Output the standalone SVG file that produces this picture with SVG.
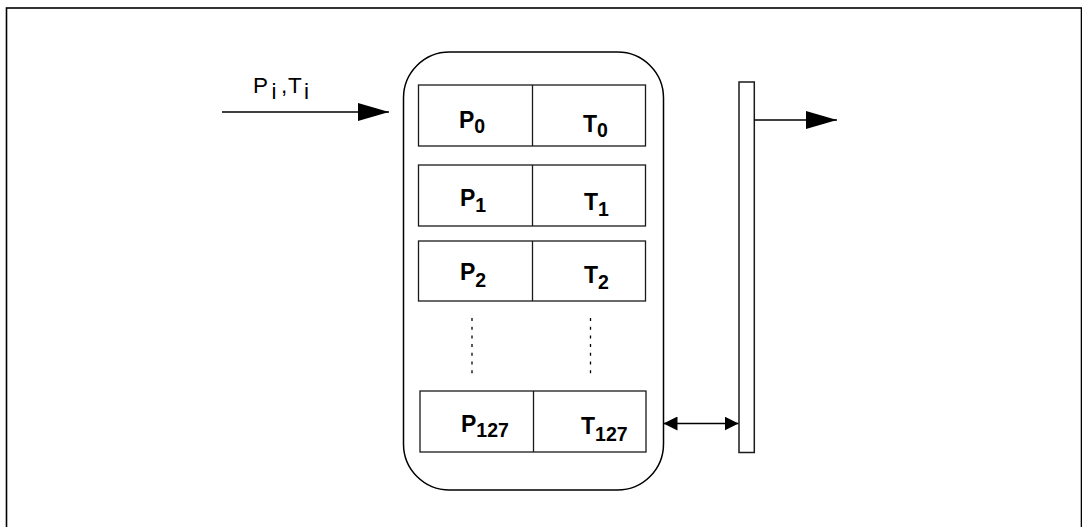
<svg xmlns="http://www.w3.org/2000/svg" width="1082" height="527" viewBox="0 0 1082 527">
<style>
.frame{fill:none;stroke:#000;stroke-width:1.6}
.box{fill:#fff;stroke:#1a1a1a;stroke-width:1.3}
.line{fill:none;stroke:#000;stroke-width:1.5}
.dot{fill:none;stroke:#000;stroke-width:1.3;stroke-dasharray:3 5.7}
.lbl{font-family:"Liberation Sans",Arial,sans-serif;font-weight:bold;font-size:23px;fill:#000}
.sub{font-size:19.5px}
.in{font-family:"Liberation Sans",Arial,sans-serif;font-size:22.5px;fill:#000}
</style>
<defs>
<marker id="ah" markerWidth="31" markerHeight="18" refX="31" refY="9" orient="auto" markerUnits="userSpaceOnUse">
<path d="M0,0 L31,9 L0,18 Z" fill="#000"/>
</marker>
<marker id="sh" markerWidth="14" markerHeight="14" refX="14" refY="7" orient="auto-start-reverse" markerUnits="userSpaceOnUse">
<path d="M0,0 L14,7 L0,14 Z" fill="#000"/>
</marker>
</defs>
<rect class="frame" x="6.5" y="8" width="1075" height="540"/>

<g id="table">
<rect class="frame" x="403.5" y="52" width="260" height="438" rx="46" ry="46" style="stroke-width:1.5"/>
</g>

<g id="row0">
<rect class="box" x="418.5" y="85" width="227" height="61"/>
<line class="box" x1="532.5" y1="85" x2="532.5" y2="146"/>
<text class="lbl" x="459" y="128">P<tspan class="sub" dy="4.5">0</tspan></text>
<text class="lbl" x="583" y="132">T<tspan class="sub" dy="4.5">0</tspan></text>
</g>
<g id="row1">
<rect class="box" x="418.5" y="165" width="227" height="61"/>
<line class="box" x1="532.5" y1="165" x2="532.5" y2="226"/>
<text class="lbl" x="460" y="205.5">P<tspan class="sub" dy="6.5">1</tspan></text>
<text class="lbl" x="584" y="209.5">T<tspan class="sub" dy="6">1</tspan></text>
</g>
<g id="row2">
<rect class="box" x="418.5" y="241" width="227" height="60"/>
<line class="box" x1="532.5" y1="241" x2="532.5" y2="301"/>
<text class="lbl" x="460" y="279.5">P<tspan class="sub" dy="7.5">2</tspan></text>
<text class="lbl" x="584" y="283">T<tspan class="sub" dy="5.5">2</tspan></text>
</g>
<g id="ellipsis">
<line class="dot" x1="472" y1="318" x2="472" y2="374"/>
<line class="dot" x1="590.5" y1="318" x2="590.5" y2="374"/>
</g>
<g id="row127">
<rect class="box" x="420" y="391" width="226" height="61"/>
<line class="box" x1="533.5" y1="391" x2="533.5" y2="452"/>
<text class="lbl" x="461" y="431.5">P<tspan class="sub" dy="5.5">127</tspan></text>
<text class="lbl" x="581" y="433.5">T<tspan class="sub" dy="7">127</tspan></text>
</g>

<g id="bus">
<rect class="box" x="739" y="82" width="15.3" height="370.5" style="stroke-width:1.5"/>
</g>

<g id="input-label">
<text class="in" x="253" y="92.5">P<tspan x="271.5" dy="6.5">i</tspan><tspan x="281" dy="-6.5">,</tspan><tspan x="288">T</tspan><tspan x="304" dy="6.5">i</tspan></text>
</g>

<g id="connectors">
<line class="line" x1="222" y1="112" x2="389" y2="112" marker-end="url(#ah)"/>
<line class="line" x1="754.3" y1="120" x2="837" y2="120" marker-end="url(#ah)"/>
<line class="line" x1="663.5" y1="423.5" x2="738.5" y2="423.5" marker-start="url(#sh)" marker-end="url(#sh)"/>
</g>
</svg>
